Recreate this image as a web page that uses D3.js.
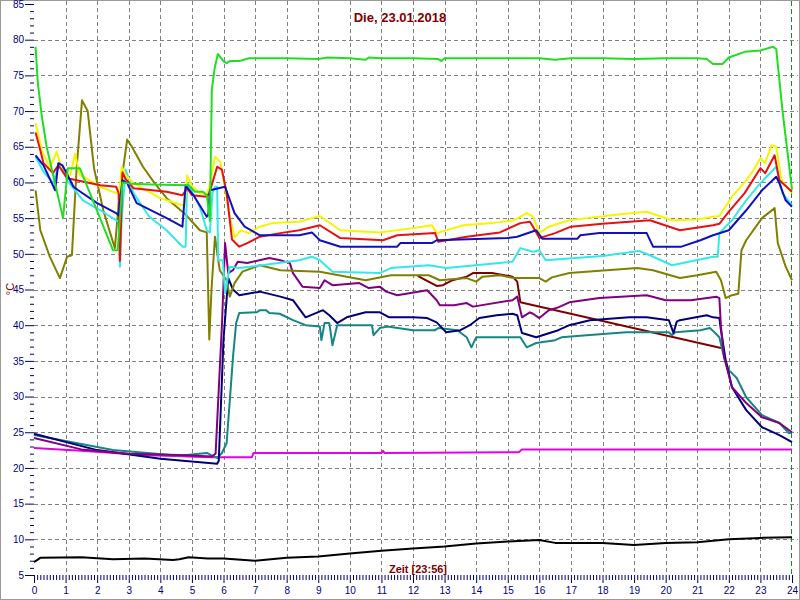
<!DOCTYPE html>
<html><head><meta charset="utf-8">
<script src="https://cdn.jsdelivr.net/npm/d3@7"></script>
<style>body{margin:0;background:#fff}svg{display:block}</style>
</head><body>
<svg id="c" width="800" height="600"></svg>
<script>
const title = "Die, 23.01.2018";
const xLabel = "Zeit [23:56]";
const yLabel = "°C";
const hourTicks = d3.range(0, 25);
const tempTicks = d3.range(5, 90, 5);

const green = [[0.05,79],[0.12,74],[0.25,69.2],[0.4,65],[0.92,55],[1.07,62],[1.45,62],[2.5,50.5],[2.65,50.5],[2.8,60],[3.1,59.8],[3.7,59.7],[4.9,59.6],[5.1,58.7],[5.35,58.7],[5.47,58.2],[5.57,54.6],[5.63,73],[5.72,76],[5.82,78],[6.0,77],[6.1,76.7],[6.2,77],[6.5,77],[6.8,77.4],[8,77.4],[9,77.3],[9.3,77.5],[10,77.4],[10.5,77.2],[10.6,77.5],[11,77.4],[12,77.4],[12.8,77.3],[12.9,77],[13,77.4],[14,77.4],[15,77.4],[16,77.4],[16.5,77.2],[17,77.4],[18,77.4],[19,77.3],[20,77.4],[21,77.4],[21.3,77.3],[21.5,76.6],[21.8,76.6],[22,77.5],[22.5,78.3],[23,78.5],[23.4,79],[23.5,78.7],[23.7,70],[24,59]];
const yellow = [[0.05,68.3],[0.25,64.5],[0.5,62],[0.72,64.3],[0.9,61.5],[1.15,61],[1.3,64],[1.45,61],[1.6,60.7],[2.1,59.4],[2.6,58.5],[2.7,58.5],[2.78,62.2],[2.9,61],[3.15,59.9],[4.0,57.8],[4.7,56.8],[4.78,57],[4.85,61],[5.0,59.5],[5.25,58.5],[5.47,58.3],[5.57,59.7],[5.73,63.6],[5.9,62.9],[6.2,55.2],[6.35,52.3],[6.55,53.3],[6.8,52.9],[7.15,53.8],[7.55,54.3],[8.4,54.5],[8.8,55],[9.05,55.3],[9.7,53.3],[10.95,53.0],[12.0,53.6],[12.6,54],[12.75,52.9],[13.6,54],[14.5,54.3],[15.2,54.7],[15.6,55.7],[15.8,55.2],[16.0,52.9],[16.3,53.8],[16.95,54.7],[17.5,55],[18.5,55.5],[19.4,55.9],[20.2,54.7],[21.0,54.8],[21.5,55.2],[21.7,55.3],[22.1,58],[22.55,60.3],[22.75,61.5],[23.0,63.4],[23.15,62.7],[23.35,65.2],[23.5,65],[23.67,60.3],[24,58.5]];
const red = [[0.05,67],[0.2,64.5],[0.3,62.7],[0.6,61.3],[0.77,62.4],[1.05,60.6],[2.1,59.6],[2.6,59.4],[2.68,58.5],[2.72,49],[2.76,55],[2.8,61.4],[2.9,60.5],[3.15,59.2],[4.2,58.7],[4.7,58.2],[4.85,59.2],[5.0,58.2],[5.47,58],[5.55,58.5],[5.8,62.2],[5.95,61.8],[6.1,58.5],[6.27,52],[6.5,51],[6.75,51.5],[7.15,52.4],[7.8,52.9],[8.4,53.3],[9.05,54],[9.7,52.2],[11.05,51.9],[11.5,52.6],[12.7,52.9],[12.8,51.7],[13.7,52.4],[14.75,53],[15.4,54.3],[15.7,54.5],[15.8,53.8],[16.0,52.2],[16.5,52.9],[17.0,53.8],[18,54.2],[19.5,54.7],[20.45,53.3],[21.5,54],[21.7,54.2],[22,55.9],[22.5,58.5],[23,62],[23.15,61.3],[23.45,63.8],[23.6,60.3],[24,58.7]];
const blue = [[0.05,63.8],[0.3,62.4],[0.67,58.9],[0.77,62.7],[0.9,62.4],[1.25,59.4],[1.4,58.9],[2.0,57.1],[2.6,55.7],[2.68,55.4],[2.8,60.3],[2.95,59.9],[3.25,57.1],[4.2,55],[4.7,53.8],[4.8,59.6],[5.05,58.2],[5.47,55.2],[5.52,55.5],[5.57,58.9],[6.05,59.4],[6.35,55.7],[6.67,53.8],[7.15,52.6],[8.4,52.6],[8.8,53],[9.05,51.9],[9.7,51],[11.5,51],[11.6,51.5],[12.6,51.5],[12.75,51.9],[15.0,52.2],[15.3,52.4],[15.9,53.3],[16.1,52.1],[17.2,52.1],[17.3,52.6],[17.9,52.9],[19.4,52.9],[19.6,51],[20.5,51],[21.1,51.9],[21.5,52.6],[22,53.3],[22.55,56.1],[23.05,58.9],[23.5,60.8],[23.6,59.9],[23.8,57.5],[24,56.6]];
const cyan = [[0.05,63.6],[0.3,61.5],[0.6,59.9],[0.82,62.7],[1.05,60.3],[1.55,57.5],[2.1,56.1],[2.6,54.7],[2.68,54.5],[2.72,48.2],[2.78,55],[2.9,61.8],[3.15,58.5],[3.65,55.2],[4.2,53.3],[4.7,51],[4.8,51],[4.85,60],[5.25,56.6],[5.47,53.3],[5.57,53],[5.65,58.5],[5.73,59.4],[5.8,59.4],[5.83,49.1],[5.98,49.1],[6.05,44.5],[6.2,48.2],[6.5,48],[8.4,49.1],[8.8,49.6],[9.05,49.1],[9.45,47.5],[10.95,47.3],[11.3,48],[12.5,48.4],[13.05,48],[15.15,48.9],[15.4,50.8],[15.8,50.3],[16.0,50.5],[16.2,49.1],[18.0,49.7],[19.15,50.4],[19.5,49.8],[20.2,48.4],[21.5,49.6],[21.65,49.6],[21.7,52.9],[22.1,54.7],[22.55,57.5],[23.0,59.9],[23.5,62.2],[23.7,58.5],[23.9,57.3],[24,56.8]];
const olive = [[0.05,58.9],[0.2,53.3],[0.5,49.6],[0.82,46.6],[1.05,49.6],[1.2,49.8],[1.35,62],[1.52,71.5],[1.7,70],[1.9,62],[2.2,56],[2.56,50.8],[2.7,58],[2.95,66],[3.1,65],[3.45,62.2],[3.8,60],[4.2,57.8],[4.8,55.5],[5.25,53.3],[5.47,53],[5.55,38],[5.62,45],[5.73,52.4],[5.88,47.7],[6.1,46.3],[6.2,44],[6.35,45.9],[6.6,47.5],[7.15,48.4],[7.8,47.7],[9.05,47.5],[10.5,46.3],[11.3,47],[12.5,47],[12.85,46.3],[13.7,46.6],[14.0,46.1],[14.2,46.8],[14.75,47],[15.2,46.6],[16.0,46.6],[16.2,46.1],[16.4,46.7],[16.95,47.3],[19.1,48],[19.6,47.7],[20.45,46.6],[21.0,47],[21.6,47.5],[21.75,46.3],[21.9,43.8],[22.1,44.2],[22.3,44.4],[22.4,50.5],[22.55,51.9],[23.05,55],[23.45,56.4],[23.55,51.5],[23.8,48.2],[24,46.3]];
const purple = [[0,24.2],[1.5,22.6],[3,22.0],[4.6,21.8],[5.63,21.6],[5.75,22],[5.95,40],[6.05,51.5],[6.15,47.3],[6.3,47.7],[6.45,48.9],[6.75,48.7],[7.45,49.4],[7.8,49.1],[8.1,48.7],[8.2,47.3],[8.5,45.4],[9.05,45.2],[9.2,46.3],[9.45,45.6],[10.3,45.9],[10.6,45.2],[10.95,45.4],[11.15,44.7],[11.5,44.2],[12.45,44.9],[12.75,43.5],[12.85,42.8],[13.3,42.8],[13.7,43.1],[13.9,42.6],[15.15,43.5],[15.3,44],[15.45,41.1],[15.7,41.8],[15.8,41.6],[16.0,41],[16.3,42.1],[16.6,42.5],[16.95,43.2],[17.9,43.8],[19.4,44.2],[20.0,43.5],[20.8,43.5],[21.6,44],[21.7,43.8],[21.75,39.8],[21.85,35.5],[22.1,31.3],[22.55,29.1],[23.05,27.1],[23.6,26.3],[24,25]];
const navy = [[0,24.8],[2,22.5],[4,21.3],[5.8,20.6],[5.85,21],[6.0,38],[6.15,46.6],[6.3,45],[6.5,44.2],[7.15,44.7],[7.8,44],[8.2,43.5],[8.6,41.1],[9.15,42.1],[9.35,41.4],[9.6,40.3],[9.9,41.1],[10.5,41.8],[10.95,41.8],[11.25,41.1],[12.0,41.1],[12.45,41],[12.75,40.4],[13.05,39],[13.5,39.3],[13.8,40],[14.1,41],[14.65,41.4],[15.15,41.6],[15.3,41.4],[15.45,38.9],[15.9,38.3],[16.1,38.6],[16.6,39.3],[16.95,40],[17.6,40.7],[18.85,41.1],[19.4,41.1],[20.1,40.7],[20.25,38.9],[20.35,40.5],[20.45,40.7],[21.3,41.4],[21.5,41.1],[21.7,41],[21.75,39.3],[21.9,35.1],[22.1,31.3],[22.55,28.1],[23.05,25.7],[23.6,24.6],[24,23.6]];
const teal = [[0,24.6],[2.5,22.5],[4.6,21.7],[5.47,22.1],[5.65,21.7],[5.8,21.4],[5.95,22.1],[6.1,23.5],[6.2,29.5],[6.3,35.5],[6.4,40.3],[6.5,41.7],[7.05,41.8],[7.15,42.1],[7.35,42.1],[7.45,41.7],[7.78,41.6],[8.2,40.7],[8.6,40],[9.05,39.8],[9.1,37.9],[9.2,40.3],[9.35,40.3],[9.45,37.2],[9.6,40],[10.7,40],[10.75,38.6],[10.95,39.6],[11.2,39.8],[12,39.3],[12.7,39.3],[12.8,39.6],[13.4,39.3],[13.7,38.3],[13.85,36.9],[14.0,38.3],[15.4,38.3],[15.6,36.9],[15.9,37.5],[16.5,37.9],[16.7,38.3],[17.5,38.6],[18.75,39],[20.1,39],[20.2,38.6],[20.3,39],[21.1,39.3],[21.4,39.6],[21.5,39.2],[21.7,38.3],[21.85,35.5],[22,33.7],[22.25,32.6],[22.55,29.9],[23.05,27.4],[23.6,26.3],[23.9,24.9],[24,24.9]];
const maroon = [[12.15,46.9],[12.4,46.3],[12.75,45.5],[12.95,45.6],[13.25,46.3],[13.7,46.8],[13.9,47.3],[14.5,47.3],[15.15,46.8],[15.3,46.1],[15.4,43.2],[15.5,43.1],[21.75,36.8]];
const magenta = [[0,22.8],[1.5,22.4],[3.45,21.8],[5.6,21.5],[6.9,21.5],[6.95,22.1],[11.0,22.1],[11.05,22.4],[11.1,22.1],[15.35,22.2],[15.45,22.6],[24,22.6]];
const black = [[0,6.8],[0.2,7.4],[1.5,7.5],[2.5,7.2],[3.5,7.3],[4.4,7.1],[4.6,7.2],[4.9,7.5],[5.5,7.3],[6,7.3],[7,7.0],[8,7.4],[9,7.6],[10,8.0],[11,8.4],[12,8.7],[13,9.0],[14,9.4],[15,9.7],[16,9.9],[16.5,9.5],[18,9.5],[19,9.2],[20,9.5],[21,9.6],[22,10.0],[23,10.2],[24,10.3]];

const series = [
  {d: black, c: "#000000"},
  {d: magenta, c: "#e600e6"},
  {d: maroon, c: "#800000"},
  {d: teal, c: "#168585"},
  {d: navy, c: "#000078"},
  {d: purple, c: "#800080"},
  {d: olive, c: "#808000"},
  {d: cyan, c: "#33e8e8"},
  {d: yellow, c: "#f5f500"},
  {d: red, c: "#e81010"},
  {d: blue, c: "#1010c0"},
  {d: green, c: "#22dd22"}
];

const svg = d3.select("#c");
const x = d3.scaleLinear().domain([0, 24]).range([34, 792]);
const y = d3.scaleLinear().domain([5, 85]).range([575, 4]);

// border
svg.append("rect").attr("x",0.5).attr("y",0.5).attr("width",799).attr("height",599)
  .attr("fill","#fff").attr("stroke","#9a9a9a");

// grid
const grid = svg.append("g").attr("stroke","#808080").attr("stroke-width",1).attr("stroke-dasharray","4,3");
grid.selectAll("line.v").data(hourTicks.filter(h => h > 0 && h < 24)).enter().append("line")
  .attr("x1", d => Math.round(x(d)) + 0.5).attr("x2", d => Math.round(x(d)) + 0.5)
  .attr("y1", 1).attr("y2", 575);
grid.selectAll("line.h").data(tempTicks.filter(t => t > 5 && t < 85)).enter().append("line")
  .attr("x1", 34).attr("x2", 798)
  .attr("y1", d => Math.round(y(d)) + 0.5).attr("y2", d => Math.round(y(d)) + 0.5);
svg.append("line").attr("x1", Math.round(x(24)) - 0.5).attr("x2", Math.round(x(24)) - 0.5)
  .attr("y1", 1).attr("y2", 575).attr("stroke","#1a8a1a").attr("stroke-dasharray","5,3");

// axes
const axColor = "#000060";
function styleAxis(g){ g.select(".domain").remove(); g.selectAll("line").attr("stroke", axColor);
  g.selectAll("text").attr("fill","#000080").attr("font-family","Liberation Sans, Arial, sans-serif").attr("font-size","10px"); }
svg.append("g").attr("transform","translate(34,0)")
  .call(d3.axisLeft(y).tickValues(d3.range(5, 86, 1).filter(v => v % 5)).tickSize(4).tickFormat(""))
  .call(styleAxis);
svg.append("g").attr("transform","translate(34,0)")
  .call(d3.axisLeft(y).tickValues(tempTicks).tickSize(9).tickPadding(1).tickFormat(d3.format("d")))
  .call(styleAxis);
svg.append("g").attr("transform","translate(0,575)")
  .call(d3.axisBottom(x).tickValues(d3.range(0, 241).filter(v => v % 10).map(v => v / 10)).tickSize(5).tickFormat(""))
  .call(styleAxis);
svg.append("g").attr("transform","translate(0,575)")
  .call(d3.axisBottom(x).tickValues(hourTicks).tickSize(8).tickPadding(4).tickFormat(d3.format("d")))
  .call(styleAxis);

// lines
const line = d3.line().x(d => x(d[0])).y(d => y(d[1]));
svg.append("g").selectAll("path").data(series).enter().append("path")
  .attr("d", s => line(s.d)).attr("fill","none").attr("stroke", s => s.c)
  .attr("stroke-width", 2).attr("stroke-linejoin","round");

// texts
svg.append("text").attr("x", 400).attr("y", 22).attr("text-anchor","middle")
  .attr("font-family","Liberation Sans, Arial, sans-serif").attr("font-weight","bold").attr("font-size","13px")
  .attr("fill","#800000").text(title);
svg.append("text").attr("x", 418).attr("y", 573).attr("text-anchor","middle")
  .attr("font-family","Liberation Sans, Arial, sans-serif").attr("font-weight","bold").attr("font-size","11px")
  .attr("fill","#800000").text(xLabel);
svg.append("text").attr("transform","translate(14,289) rotate(-90)").attr("text-anchor","middle")
  .attr("font-family","Liberation Sans, Arial, sans-serif").attr("font-size","11px")
  .attr("fill","#800000").text(yLabel);
</script>
</body></html>
